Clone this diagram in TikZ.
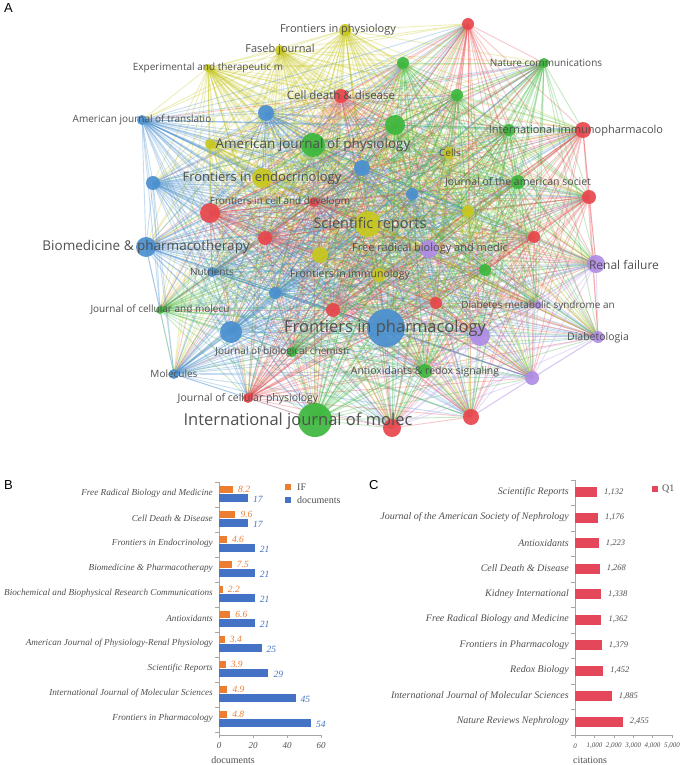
\documentclass[tikz,border=0pt]{standalone}
\usepackage{fontspec}
\setmainfont{Liberation Serif}
\newfontfamily\netfont{Open Sans}
\newfontfamily\letfont{Liberation Sans}
\begin{document}
\definecolor{cR}{HTML}{E8474C}
\definecolor{cG}{HTML}{3DB83D}
\definecolor{cB}{HTML}{4A90D0}
\definecolor{cY}{HTML}{C8C820}
\definecolor{cP}{HTML}{B08CE6}
\definecolor{txt}{HTML}{505050}
\definecolor{barO}{HTML}{ED7D31}
\definecolor{barB}{HTML}{4472C4}
\definecolor{barR}{HTML}{E5475A}
\begin{tikzpicture}[x=1pt,y=-1pt,
  net/.style={font=\netfont, text=txt, inner sep=0pt},
  cat/.style={font=\itshape\fontsize{9.2}{10}\selectfont, text=txt, anchor=east, inner sep=0pt},
  val/.style={font=\itshape\fontsize{9.5}{10}\selectfont, anchor=west, inner sep=0pt},
  tick/.style={font=\itshape\fontsize{9}{10}\selectfont, text=txt, inner sep=0pt},
  letter/.style={font=\letfont\fontsize{13}{14}\selectfont, inner sep=0pt, anchor=west}]
\useasboundingbox (0,0) rectangle (700,765);
\fill[white] (0,0) rectangle (700,765);
% ---------------- Panel A ----------------
\node[letter] (LA) at (4,8) {A};
\foreach \i/\x/\y/\c/\r in {
 1/345/30/cY/6, 2/280/50/cY/5, 3/208/68/cY/4, 4/341/96/cR/7, 5/142/120/cB/5,
 6/266/113/cB/8, 7/313/145/cG/12, 8/210/144/cY/5, 9/153/183/cB/7, 10/262/178/cY/10,
 11/314/202/cR/5, 12/210/213/cR/10, 13/146/247/cB/10, 14/265/238/cR/7, 15/320/255/cY/8,
 16/212/272/cB/5, 17/275/293/cB/6, 18/333/310/cR/7, 19/160/310/cG/4, 20/231/332/cB/11,
 21/292/352/cG/5, 22/174/374/cB/5, 23/248/398/cR/5, 24/315/420/cG/17, 25/368/224/cY/13,
 26/468/24/cR/6, 27/403/63/cG/6, 28/544/63/cG/5, 29/457/95/cG/6, 30/395/125/cG/10,
 31/449/153/cY/6, 32/509/130/cG/6, 33/583/130/cR/8, 34/362/168/cB/8, 35/518/182/cG/7,
 36/412/194/cB/6, 37/589/197/cR/7, 38/468/211/cY/6, 39/534/237/cR/6, 40/429/249/cP/9,
 41/485/270/cG/6, 42/596/264/cP/9, 43/436/303/cR/6, 44/538/305/cP/4, 45/386/328/cB/19,
 46/480/336/cP/10, 47/598/337/cP/6, 48/532/378/cP/7, 49/425/371/cG/7, 50/471/417/cR/8,
 51/392/428/cR/9, 52/379/275/cY/7}
 { \coordinate (n\i) at (\x,\y);
   \expandafter\xdef\csname ncol\i\endcsname{\c}
   \expandafter\xdef\csname nrad\i\endcsname{\r} }
\foreach \i in {1,...,51} {
  \pgfmathtruncatemacro{\jst}{\i+1}
  \foreach \j in {\jst,...,52} {
    \edef\cc{\csname ncol\i\endcsname}
    \draw[\cc, opacity=0.3, line width=0.9pt] (n\i) -- (n\j);
  }
}
\foreach \i in {1,...,52} {
  \edef\cc{\csname ncol\i\endcsname}
  \edef\rr{\csname nrad\i\endcsname}
  \fill[\cc, opacity=0.92] (n\i) circle (\rr pt);
}
\node[net, font=\netfont\fontsize{11}{12}\selectfont] (t1) at (338,30) {Frontiers in physiology};
\node[net, font=\netfont\fontsize{11}{12}\selectfont] (t2) at (280,50) {Faseb journal};
\node[net, font=\netfont\fontsize{10}{12}\selectfont] (t3) at (208,68) {Experimental and therapeutic m};
\node[net, font=\netfont\fontsize{10}{12}\selectfont] (t4) at (546,63) {Nature communications};
\node[net, font=\netfont\fontsize{11.5}{12}\selectfont] (t5) at (341,95) {Cell death \& disease};
\node[net, font=\netfont\fontsize{10}{12}\selectfont] (t6) at (142,120) {American journal of translatio};
\node[net, font=\netfont\fontsize{11}{12}\selectfont] (t7) at (576,131) {International immunopharmacolo};
\node[net, font=\netfont\fontsize{13.5}{14}\selectfont] (t8) at (313,145) {American journal of physiology};
\node[net, font=\netfont\fontsize{10}{12}\selectfont] (t9) at (450,153) {Cells};
\node[net, font=\netfont\fontsize{13}{14}\selectfont] (t10) at (262,178) {Frontiers in endocrinology};
\node[net, font=\netfont\fontsize{10.5}{12}\selectfont] (t11) at (518,182) {Journal of the american societ};
\node[net, font=\netfont\fontsize{10}{12}\selectfont] (t12) at (280,202) {Frontiers in cell and developm};
\node[net, font=\netfont\fontsize{14.5}{15}\selectfont] (t13) at (370,225) {Scientific reports};
\node[net, font=\netfont\fontsize{13.5}{14}\selectfont] (t14) at (146,247) {Biomedicine \& pharmacotherapy};
\node[net, font=\netfont\fontsize{11}{12}\selectfont] (t15) at (430,249) {Free radical biology and medic};
\node[net, font=\netfont\fontsize{10}{12}\selectfont] (t16) at (212,272) {Nutrients};
\node[net, font=\netfont\fontsize{10.5}{12}\selectfont] (t17) at (350,275) {Frontiers in immunology};
\node[net, font=\netfont\fontsize{12}{13}\selectfont] (t18) at (624,265) {Renal failure};
\node[net, font=\netfont\fontsize{10}{12}\selectfont] (t19) at (160,310) {Journal of cellular and molecu};
\node[net, font=\netfont\fontsize{10}{12}\selectfont] (t20) at (538,306) {Diabetes metabolic syndrome an};
\node[net, font=\netfont\fontsize{16.5}{17}\selectfont] (t21) at (385,328) {Frontiers in pharmacology};
\node[net, font=\netfont\fontsize{10.5}{12}\selectfont] (t22) at (598,338) {Diabetologia};
\node[net, font=\netfont\fontsize{10}{12}\selectfont] (t23) at (283,352) {Journal of biological chemistr};
\node[net, font=\netfont\fontsize{10}{12}\selectfont] (t24) at (174,374) {Molecules};
\node[net, font=\netfont\fontsize{10.5}{12}\selectfont] (t25) at (425,372) {Antioxidants \& redox signaling};
\node[net, font=\netfont\fontsize{10.5}{12}\selectfont] (t26) at (248,399) {Journal of cellular physiology};
\node[net, font=\netfont\fontsize{16.5}{17}\selectfont] (t27) at (298,421) {International journal of molec};
% ---------------- Panel B ----------------
\node[letter] (LB) at (4,485) {B};
\coordinate (bAx0) at (219,482); \coordinate (bAx1) at (219,735); \coordinate (bAx2) at (321,735);
\draw[gray!70] (bAx0) -- (bAx1) -- (bAx2);
\foreach \k in {0,...,10} \draw[gray!70] (215,{482+25*\k}) -- (219,{482+25*\k});
\foreach \v/\xx in {0/219,20/253,40/287,60/321} {
  \draw[gray!70] (\xx,735) -- (\xx,738);
  \node[tick] at (\xx,746) {\v};
}
\node[font=\fontsize{10}{11}\selectfont, text=txt] (bxl) at (233,760) {documents};
\foreach \i/\name/\ifv/\doc in {
 0/Free Radical Biology and Medicine/8.2/17, 1/Cell Death \& Disease/9.6/17,
 2/Frontiers in Endocrinology/4.6/21, 3/Biomedicine \& Pharmacotherapy/7.5/21,
 4/Biochemical and Biophysical Research Communications/2.2/21, 5/Antioxidants/6.6/21,
 6/American Journal of Physiology-Renal Physiology/3.4/25, 7/Scientific Reports/3.9/29,
 8/International Journal of Molecular Sciences/4.9/45, 9/Frontiers in Pharmacology/4.8/54} {
  \pgfmathsetmacro{\yy}{489+25*\i}
  \fill[barO] (219,\yy-3.5) rectangle ({219+1.7*\ifv},\yy+3.5);
  \node[val, text=barO] at ({224+1.7*\ifv},\yy) {\ifv};
  \fill[barB] (219,\yy+5) rectangle ({219+1.7*\doc},\yy+13);
  \node[val, text=barB] at ({224+1.7*\doc},\yy+10) {\doc};
  \node[cat] at (213,\yy+4.5) {\name};
}
\fill[barO] (285,484) rectangle (291,490);
\node[font=\fontsize{10}{11}\selectfont, text=txt, anchor=west, inner sep=0pt] (lgIF) at (297,487) {IF};
\fill[barB] (285,497) rectangle (291,503);
\node[font=\fontsize{10}{11}\selectfont, text=txt, anchor=west, inner sep=0pt] (lgDoc) at (297,500) {documents};
% ---------------- Panel C ----------------
\node[letter] (LC) at (369,485) {C};
\draw[gray!70] (575,480) -- (575,735) -- (672,735);
\foreach \k in {0,...,10} \draw[gray!70] (571,{480+25.5*\k}) -- (575,{480+25.5*\k});
\foreach \k/\lab in {0/0,1/{1,000},2/{2,000},3/{3,000},4/{4,000},5/{5,000}} {
  \draw[gray!70] ({575+19.4*\k},735) -- ({575+19.4*\k},738);
  \node[tick, font=\itshape\fontsize{7}{8}\selectfont] at ({575+19.4*\k},746) {\lab};
}
\node[font=\fontsize{10}{11}\selectfont, text=txt] (cxl) at (590,760) {citations};
\foreach \i/\name/\cit/\lab in {
 0/Scientific Reports/1132/{1,132}, 1/Journal of the American Society of Nephrology/1176/{1,176},
 2/Antioxidants/1223/{1,223}, 3/Cell Death \& Disease/1268/{1,268},
 4/Kidney International/1338/{1,338}, 5/Free Radical Biology and Medicine/1362/{1,362},
 6/Frontiers in Pharmacology/1379/{1,379}, 7/Redox Biology/1452/{1,452},
 8/International Journal of Molecular Sciences/1885/{1,885}, 9/Nature Reviews Nephrology/2455/{2,455}} {
  \pgfmathsetmacro{\yy}{492+25.5*\i}
  \fill[barR] (575,\yy-5) rectangle ({575+0.0194*\cit},\yy+5);
  \node[val, text=txt, font=\itshape\fontsize{8.5}{9}\selectfont] at ({582+0.0194*\cit},\yy) {\lab};
  \node[cat, font=\itshape\fontsize{10}{11}\selectfont] at (569,\yy) {\name};
}
\fill[barR] (652,486) rectangle (658,492);
\node[font=\fontsize{10}{11}\selectfont, text=txt, anchor=west, inner sep=0pt] (lgQ) at (662,489) {Q1};
\end{tikzpicture}
\end{document}
